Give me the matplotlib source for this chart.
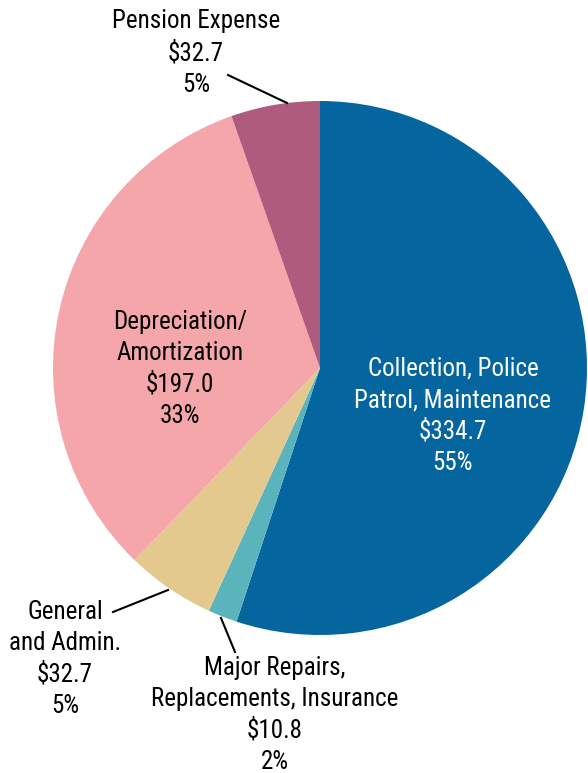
import matplotlib
matplotlib.use("Agg")
import matplotlib.pyplot as plt
from matplotlib import font_manager

# expense categories, millions of dollars
labels = [
    "Collection, Police\nPatrol, Maintenance",
    "Major Repairs,\nReplacements, Insurance",
    "General\nand Admin.",
    "Depreciation/\nAmortization",
    "Pension Expense",
]
amounts = [334.7, 10.8, 32.7, 197.0, 32.7]
percents = ["55%", "2%", "5%", "33%", "5%"]
colors = ["#05659E", "#5BB3BC", "#E3C98E", "#F5A6AA", "#AE5B7E"]

installed = {f.name for f in font_manager.fontManager.ttflist}
families = [f for f in ["Liberation Sans Narrow", "Roboto Condensed", "Roboto", "DejaVu Sans"] if f in installed]
plt.rcParams["font.family"] = families

W, H = 588, 773
fig = plt.figure(figsize=(W / 100, H / 100), dpi=100)
ax = fig.add_axes([0, 0, 1, 1])

cx, cy, r = 320, H - 368, 267
ax.pie(amounts, colors=colors, startangle=90, counterclock=False,
       center=(cx, cy), radius=r, frame=True,
       wedgeprops=dict(linewidth=0))
ax.set_xlim(0, W)
ax.set_ylim(0, H)
ax.set_aspect("equal")
ax.axis("off")


def label(i):
    return f"{labels[i]}\n${amounts[i]:.1f}\n{percents[i]}"


fs = 18
ls = 1.38
# inside labels
ax.text(453, H - 416, label(0), color="white", fontsize=fs, ha="center", va="center", linespacing=ls)
ax.text(180, H - 369, label(3), color="black", fontsize=fs, ha="center", va="center", linespacing=ls)

# outside labels with leader lines
ax.text(196, H - 53, label(4), fontsize=fs, ha="center", va="center", linespacing=ls)
ax.plot([228, 287], [H - 75, H - 103], color="black", lw=1.5)

ax.text(65, H - 659, label(2), fontsize=fs, ha="center", va="center", linespacing=ls)
ax.plot([113, 168], [H - 612, H - 590], color="black", lw=1.5)

ax.text(275, H - 715, label(1), fontsize=fs, ha="center", va="center", linespacing=ls)
ax.plot([221, 235], [H - 618, H - 652], color="black", lw=1.5)

fig.savefig("out.png", dpi=100)
